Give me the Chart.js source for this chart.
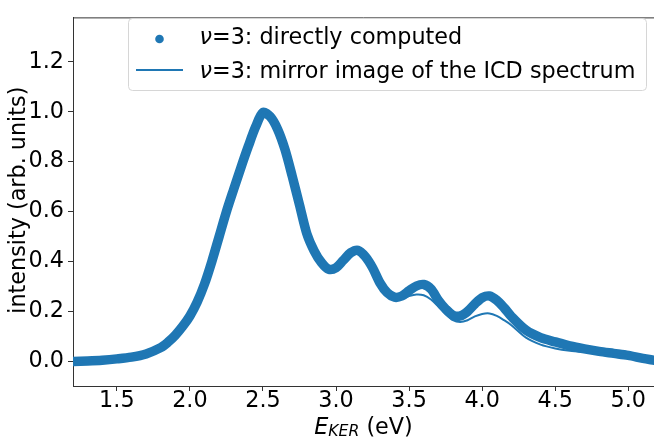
<!DOCTYPE html>
<html>
<head>
<meta charset="utf-8">
<script src="https://cdn.jsdelivr.net/npm/chart.js@4.4.1/dist/chart.umd.min.js"></script>
<style>
  html, body { margin: 0; padding: 0; background: #fff; }
  #wrap { width: 654px; height: 440px; }
</style>
</head>
<body>
<div id="wrap"><canvas id="myChart" width="654" height="440"></canvas></div>
<script>
// values
const xTicks = [1.5, 2.0, 2.5, 3.0, 3.5, 4.0, 4.5, 5.0];
const yTicks = [0.0, 0.2, 0.4, 0.6, 0.8, 1.0, 1.2];

const energy = [1.2, 1.3, 1.4, 1.5, 1.6, 1.7, 1.8, 1.85, 1.9, 1.95, 2.0,
  2.05, 2.1, 2.15, 2.2, 2.25, 2.3, 2.35, 2.4, 2.45, 2.5,
  2.55, 2.6, 2.65, 2.7, 2.75, 2.8, 2.85, 2.9, 2.95, 3.0,
  3.05, 3.1, 3.15, 3.2, 3.25, 3.3, 3.35, 3.4, 3.45, 3.5,
  3.55, 3.6, 3.65, 3.7, 3.75, 3.8, 3.85, 3.9, 3.95, 4.0,
  4.05, 4.1, 4.15, 4.2, 4.3, 4.4, 4.5, 4.6, 4.7, 4.8, 4.9, 5.0, 5.1, 5.18];

const directly = [0.000, 0.002, 0.005, 0.010, 0.017, 0.030, 0.055, 0.077, 0.105, 0.140, 0.182,
  0.238, 0.310, 0.400, 0.500, 0.600, 0.690, 0.778, 0.862, 0.940, 0.997,
  0.980, 0.930, 0.850, 0.742, 0.627, 0.512, 0.443, 0.396, 0.369, 0.375,
  0.405, 0.435, 0.445, 0.420, 0.375, 0.315, 0.275, 0.257, 0.262, 0.283,
  0.302, 0.308, 0.290, 0.245, 0.210, 0.185, 0.182, 0.200, 0.230, 0.255,
  0.262, 0.245, 0.215, 0.180, 0.125, 0.095, 0.078, 0.062, 0.050, 0.040, 0.032, 0.024, 0.012, 0.004];

const mirror = [0.000, 0.002, 0.005, 0.010, 0.017, 0.030, 0.055, 0.077, 0.105, 0.140, 0.182,
  0.238, 0.310, 0.400, 0.500, 0.600, 0.690, 0.778, 0.862, 0.940, 0.997,
  0.980, 0.930, 0.850, 0.742, 0.627, 0.512, 0.443, 0.396, 0.369, 0.372,
  0.398, 0.425, 0.432, 0.410, 0.365, 0.308, 0.268, 0.250, 0.252, 0.262,
  0.268, 0.265, 0.248, 0.220, 0.190, 0.165, 0.158, 0.165, 0.180, 0.190,
  0.192, 0.182, 0.165, 0.145, 0.095, 0.067, 0.052, 0.043, 0.038, 0.034, 0.029, 0.023, 0.012, 0.004];

const labelDirect = '=3: directly computed';
const labelMirror = '=3: mirror image of the ICD spectrum';

const blue = '#1f77b4';
const fontFam = "'DejaVu Sans', sans-serif";
const fs = 22.3;
Chart.defaults.font.family = fontFam;

function toPoints(ys) {
  return energy.map(function(x, i) { return { x: x, y: ys[i] }; });
}

// top spine, axis titles and matplotlib-like legend box
const extras = {
  id: 'extras',
  afterDraw: function(chart) {
    const ctx = chart.ctx;
    const a = chart.chartArea;
    ctx.save();
    ctx.strokeStyle = '#333';
    ctx.lineWidth = 1;
    ctx.beginPath();
    ctx.moveTo(a.left, a.top + 0.5);
    ctx.lineTo(a.right, a.top + 0.5);
    ctx.stroke();

    // y title
    ctx.fillStyle = '#000';
    ctx.font = fs + 'px ' + fontFam;
    ctx.textAlign = 'center';
    ctx.textBaseline = 'middle';
    ctx.save();
    ctx.translate(19.5, (a.top + a.bottom) / 2 - 1.5);
    ctx.rotate(-Math.PI / 2);
    ctx.fillText('intensity (arb. units)', 0, 0);
    ctx.restore();

    // x title E_KER (eV)
    ctx.textAlign = 'left';
    ctx.textBaseline = 'alphabetic';
    const fBig = 'italic ' + fs + 'px ' + fontFam;
    const fSub = 'italic ' + (fs * 0.7) + 'px ' + fontFam;
    const fReg = fs + 'px ' + fontFam;
    ctx.font = fBig; const wE = ctx.measureText('E').width;
    ctx.font = fSub; const wK = ctx.measureText('KER').width;
    ctx.font = fReg; const wR = ctx.measureText(' (eV)').width;
    const x0 = (a.left + a.right) / 2 - (wE + wK + wR) / 2;
    const base = 433.5;
    ctx.font = fBig; ctx.fillText('E', x0, base);
    ctx.font = fSub; ctx.fillText('KER', x0 + wE, base + 2.5);
    ctx.font = fReg; ctx.fillText(' (eV)', x0 + wE + wK, base);

    // legend
    const bx = 128.5, by = 18.5, bw = 518, bh = 72, r = 4;
    ctx.beginPath();
    ctx.moveTo(bx + r, by);
    ctx.arcTo(bx + bw, by, bx + bw, by + bh, r);
    ctx.arcTo(bx + bw, by + bh, bx, by + bh, r);
    ctx.arcTo(bx, by + bh, bx, by, r);
    ctx.arcTo(bx, by, bx + bw, by, r);
    ctx.closePath();
    ctx.fillStyle = 'rgba(255,255,255,0.8)';
    ctx.fill();
    ctx.strokeStyle = '#d6d6d6';
    ctx.stroke();

    ctx.fillStyle = blue;
    ctx.beginPath();
    ctx.arc(159.5, 39, 4.3, 0, Math.PI * 2);
    ctx.fill();
    ctx.strokeStyle = blue;
    ctx.lineWidth = 2;
    ctx.beginPath();
    ctx.moveTo(136, 70);
    ctx.lineTo(183, 70);
    ctx.stroke();

    ctx.fillStyle = '#000';
    const rows = [[labelDirect, 44], [labelMirror, 77.5]];
    rows.forEach(function(row) {
      ctx.font = 'italic ' + fs + 'px ' + fontFam;
      const wn = ctx.measureText('ν').width;
      ctx.fillText('ν', 199.5, row[1]);
      ctx.font = fs + 'px ' + fontFam;
      ctx.fillText(row[0], 199.5 + wn, row[1]);
    });
    ctx.restore();
  }
};

const ctx = document.getElementById('myChart').getContext('2d');
const chart = new Chart(ctx, {
  type: 'line',
  data: {
    datasets: [
      {
        label: 'directly computed',
        data: toPoints(directly),
        borderColor: blue,
        backgroundColor: blue,
        borderWidth: 9.5,
        pointRadius: 0,
        tension: 0.3,
        borderCapStyle: 'round',
        borderJoinStyle: 'round',
        order: 2
      },
      {
        label: 'mirror image',
        data: toPoints(mirror),
        borderColor: blue,
        backgroundColor: blue,
        borderWidth: 2,
        pointRadius: 0,
        tension: 0.3,
        order: 1
      }
    ]
  },
  options: {
    responsive: false,
    animation: false,
    layout: { padding: { top: 7, right: 0, left: 0, bottom: 0 } },
    plugins: { legend: { display: false }, tooltip: { enabled: false } },
    scales: {
      x: {
        type: 'linear',
        min: 1.2,
        max: 5.176,
        afterBuildTicks: function(s) { s.ticks = xTicks.map(function(v) { return { value: v }; }); },
        afterFit: function(s) { s.height = 54; },
        ticks: {
          callback: function(v) { return v.toFixed(1); },
          font: { size: fs },
          color: '#000',
          padding: -3,
          maxRotation: 0,
          autoSkip: false
        },
        grid: { drawOnChartArea: false, drawTicks: true, tickLength: 5, color: '#333' },
        border: { color: '#333', width: 1 }
      },
      y: {
        type: 'linear',
        min: -0.0986,
        max: 1.378,
        afterBuildTicks: function(s) { s.ticks = yTicks.map(function(v) { return { value: v }; }); },
        afterFit: function(s) { s.width = 73; },
        ticks: {
          callback: function(v) { return v.toFixed(1); },
          font: { size: fs },
          color: '#000',
          padding: 4,
          autoSkip: false
        },
        grid: { drawOnChartArea: false, drawTicks: true, tickLength: 5, color: '#333' },
        border: { color: '#333', width: 1 }
      }
    }
  },
  plugins: [extras]
});
</script>
</body>
</html>
